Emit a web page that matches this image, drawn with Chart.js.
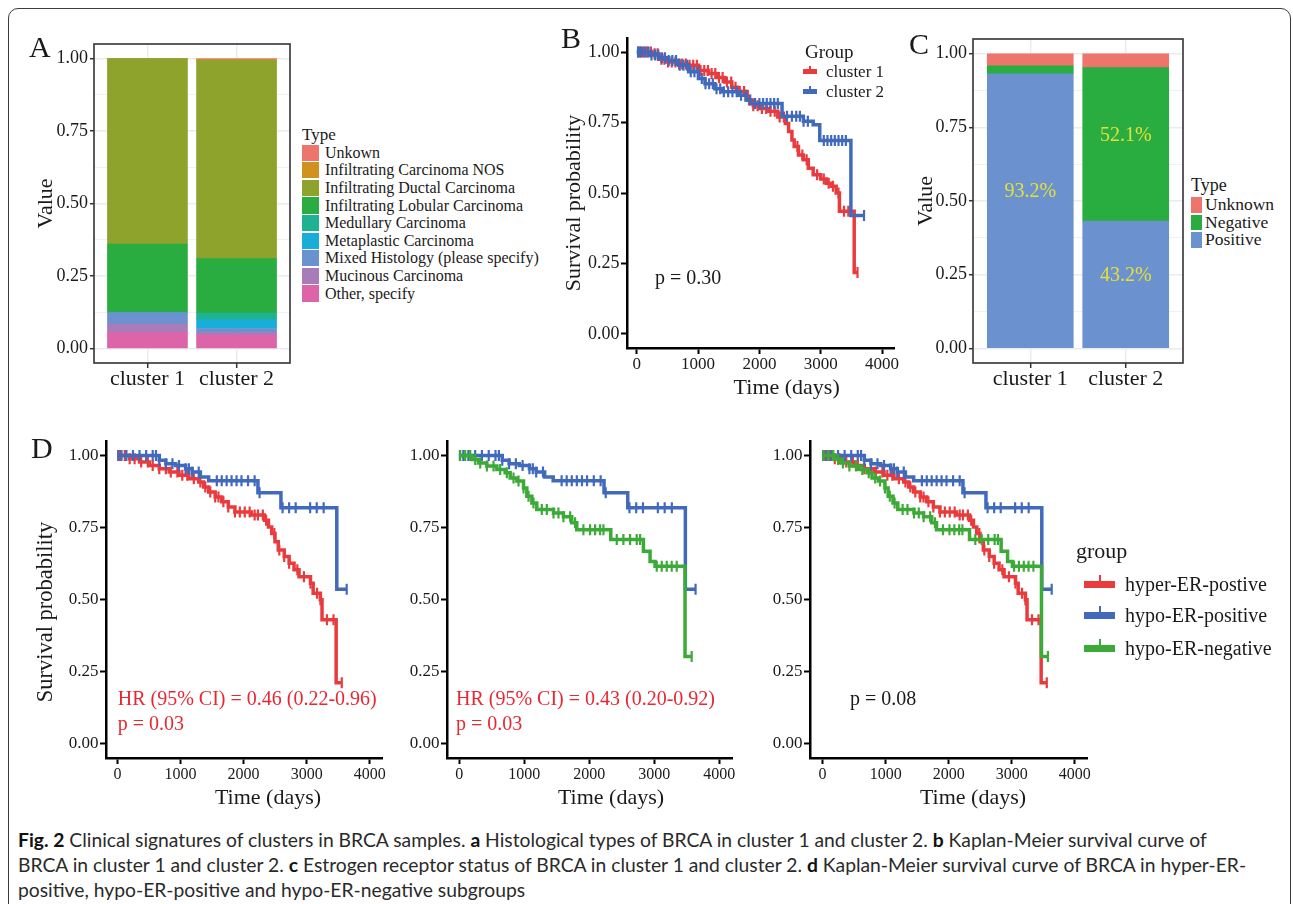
<!DOCTYPE html>
<html>
<head>
<meta charset="utf-8">
<title>Fig. 2</title>
<script src="https://cdn.jsdelivr.net/npm/chart.js@4.4.1/dist/chart.umd.min.js"></script>
<style>
html,body{margin:0;padding:0;background:#fff;}
body{width:1293px;height:904px;overflow:hidden;position:relative;font-family:'Liberation Serif','Times New Roman',serif;color:#1a1a1a;}
.abs{position:absolute;white-space:nowrap;}
canvas{position:absolute;}
#frame{position:absolute;left:8px;top:8px;width:1283px;height:1000px;border:1.5px solid #3c3c3c;border-radius:10px;box-sizing:border-box;}
.cap{position:absolute;left:18px;font-family:Lato,'Open Sans',sans-serif;font-size:19.3px;line-height:20px;color:#2a2a2a;white-space:nowrap;}
.cap b{color:#111;}
</style>
</head>
<body>
<div id="frame"></div>
<canvas id="cA" width="272" height="370" style="left:20px;top:30px"></canvas>
<canvas id="cB" width="362" height="380" style="left:540px;top:25px"></canvas>
<canvas id="cC" width="290" height="375" style="left:900px;top:25px"></canvas>
<canvas id="cD1" width="370" height="390" style="left:20px;top:425px"></canvas>
<canvas id="cD2" width="350" height="390" style="left:390px;top:425px"></canvas>
<canvas id="cD3" width="330" height="390" style="left:765px;top:425px"></canvas>
<div class="cap" style="top:830px"><b>Fig. 2</b> Clinical signatures of clusters in BRCA samples. <b>a</b> Histological types of BRCA in cluster 1 and cluster 2. <b>b</b> Kaplan-Meier survival curve of</div>
<div class="cap" style="top:855px">BRCA in cluster 1 and cluster 2. <b>c</b> Estrogen receptor status of BRCA in cluster 1 and cluster 2. <b>d</b> Kaplan-Meier survival curve of BRCA in hyper-ER-</div>
<div class="cap" style="top:880px">positive, hypo-ER-positive and hypo-ER-negative subgroups</div>
<script>
// ================= DATA =================
const clusters = ['cluster 1', 'cluster 2'];

// Panel A: histological types (stack order: first = top)
const histTypes = ['Unkown', 'Infiltrating Carcinoma NOS', 'Infiltrating Ductal Carcinoma', 'Infiltrating Lobular Carcinoma', 'Medullary Carcinoma', 'Metaplastic Carcinoma', 'Mixed Histology (please specify)', 'Mucinous Carcinoma', 'Other, specify'];
const histCluster1 = [0, 0, 0.640, 0.236, 0, 0, 0.040, 0.029, 0.055];
const histCluster2 = [0.004, 0.002, 0.684, 0.188, 0.023, 0.030, 0.014, 0.008, 0.047];

// Panel C: ER status
const erTypes = ['Unknown', 'Negative', 'Positive'];
const erCluster1 = [0.041, 0.027, 0.932];
const erCluster2 = [0.047, 0.521, 0.432];

// Axis ticks
const valueTicks = [0, 0.25, 0.5, 0.75, 1.0];
const valueMinorTicks = [0.125, 0.375, 0.625, 0.875];
const timeTicks = [0, 1000, 2000, 3000, 4000];

// Panel B: Kaplan-Meier, cluster 1 / cluster 2
const bGroups = ['cluster 1', 'cluster 2'];
const bC1Time = [0, 250, 360, 480, 640, 845, 1005, 1166, 1300, 1433, 1550, 1647, 1800, 1900, 2000, 2150, 2300, 2423, 2476, 2530, 2567, 2637, 2717, 2797, 2877, 3000, 3091, 3171, 3252, 3305, 3546];
const bC1Surv = [1.0, 0.994, 0.975, 0.965, 0.958, 0.953, 0.935, 0.924, 0.91, 0.894, 0.875, 0.86, 0.83, 0.81, 0.80, 0.79, 0.77, 0.747, 0.718, 0.688, 0.665, 0.635, 0.618, 0.588, 0.565, 0.55, 0.535, 0.524, 0.50, 0.435, 0.218];
const bC1Censor = [30, 70, 120, 170, 230, 290, 340, 400, 450, 510, 570, 630, 690, 740, 800, 860, 920, 980, 1040, 1100, 1160, 1220, 1280, 1340, 1400, 1470, 1540, 1610, 1680, 1750, 1830, 1900, 1970, 2040, 2110, 2180, 2250, 2330, 2400, 2620, 2700, 2770, 2940, 3050, 3130, 3200, 3290, 3380, 3450, 3600];
const bC2Time = [0, 200, 360, 520, 685, 845, 1005, 1112, 1273, 1380, 1647, 1781, 1861, 2369, 2717, 2877, 2984, 3492];
const bC2Surv = [1.0, 0.99, 0.98, 0.97, 0.953, 0.93, 0.906, 0.888, 0.87, 0.859, 0.847, 0.83, 0.818, 0.772, 0.755, 0.742, 0.686, 0.42];
const bC2Censor = [20, 50, 90, 140, 190, 240, 300, 350, 410, 460, 520, 580, 640, 700, 760, 820, 880, 940, 1000, 1060, 1120, 1180, 1240, 1300, 1360, 1420, 1490, 1560, 1630, 1700, 1780, 1850, 1930, 2000, 2060, 2120, 2180, 2240, 2300, 2450, 2530, 2600, 2660, 2720, 2790, 3050, 3110, 3170, 3230, 3290, 3350, 3410, 3706];
const bPValue = 'p = 0.30';

// Panel D: Kaplan-Meier, ER subgroups
const dGroups = ['hyper-ER-postive', 'hypo-ER-positive', 'hypo-ER-negative'];
const hyperPosTime = [0, 193, 349, 506, 662, 819, 975, 1132, 1288, 1366, 1445, 1549, 1653, 1757, 1862, 2123, 2331, 2394, 2446, 2498, 2550, 2644, 2722, 2800, 2879, 3061, 3103, 3218, 3244, 3468];
const hyperPosSurv = [1.0, 0.988, 0.977, 0.965, 0.954, 0.942, 0.931, 0.919, 0.908, 0.89, 0.873, 0.856, 0.839, 0.821, 0.804, 0.793, 0.775, 0.752, 0.729, 0.70, 0.672, 0.649, 0.626, 0.603, 0.579, 0.556, 0.522, 0.499, 0.43, 0.211];
const hyperPosCensor = [37, 115, 193, 271, 375, 480, 558, 662, 767, 845, 949, 1027, 1106, 1210, 1314, 1392, 1471, 1549, 1601, 1679, 1757, 1862, 1940, 2018, 2096, 2175, 2227, 2305, 2357, 2487, 2566, 2644, 2722, 2852, 2957, 3061, 3165, 3218, 3322, 3426, 3557];
const hypoPosTime = [0, 662, 767, 923, 1080, 1184, 1314, 1445, 2227, 2592, 3478];
const hypoPosSurv = [1.0, 0.983, 0.971, 0.965, 0.954, 0.942, 0.925, 0.912, 0.87, 0.818, 0.536];
const hypoPosCensor = [10, 63, 141, 245, 349, 454, 558, 610, 662, 767, 871, 975, 1080, 1132, 1184, 1288, 1575, 1653, 1731, 1809, 1888, 1966, 2070, 2175, 2253, 2618, 2722, 2826, 3055, 3160, 3270, 3635];
const hypoNegTime = [0, 195, 297, 425, 579, 707, 784, 886, 989, 1040, 1117, 1193, 1450, 1603, 1731, 1808, 2331, 2833, 2935, 3012, 3473];
const hypoNegSurv = [1.0, 0.986, 0.974, 0.963, 0.951, 0.94, 0.922, 0.911, 0.887, 0.858, 0.835, 0.812, 0.80, 0.787, 0.766, 0.742, 0.708, 0.667, 0.632, 0.615, 0.302];
const hypoNegCensor = [15, 92, 169, 246, 323, 425, 528, 630, 732, 835, 912, 989, 1066, 1142, 1270, 1347, 1450, 1526, 1603, 1706, 1782, 1910, 2013, 2090, 2167, 2218, 2423, 2525, 2628, 2730, 2782, 3038, 3115, 3192, 3268, 3345, 3575];
const d1Stats = ['HR (95% CI) = 0.46 (0.22-0.96)', 'p = 0.03'];
const d2Stats = ['HR (95% CI) = 0.43 (0.20-0.92)', 'p = 0.03'];
const d3Stats = ['p = 0.08'];

// ================= STYLE =================
const FONT = "'Liberation Serif','Times New Roman',serif";
const TXT = '#1a1a1a';
const histColors = ['#EE756C', '#D0911E', '#8EA32C', '#29AC40', '#1DB292', '#19AEDA', '#6B91CF', '#A87CB9', '#DD64A9'];
const erColors = ['#EE756C', '#29AC40', '#6B91CF'];
const RED = '#E93B3D', BLUE = '#4169BC', GREEN = '#3CAA37';
const STAT_RED = '#E62832';

// ================= HELPERS =================
function txt(str, x, cy, size, o) {
  o = o || {};
  const d = document.createElement('div');
  d.className = 'abs';
  d.textContent = str;
  d.style.fontSize = size + 'px';
  d.style.lineHeight = size + 'px';
  d.style.left = x + 'px';
  d.style.top = (cy - size / 2) + 'px';
  if (o.color) d.style.color = o.color;
  if (o.center) d.style.transform = 'translateX(-50%)';
  if (o.rotate) { d.style.transform = 'translate(-50%,-50%) rotate(-90deg)'; d.style.top = cy + 'px'; }
  document.body.appendChild(d);
  return d;
}
function box(x, y, w, h, color) {
  const d = document.createElement('div');
  d.className = 'abs';
  Object.assign(d.style, {left: x + 'px', top: y + 'px', width: w + 'px', height: h + 'px', background: color});
  document.body.appendChild(d);
}
function letter(ch, x, baseline) { txt(ch, x, baseline - 25 + 15, 30); }

const panelBorder = {
  id: 'panelBorder',
  afterDatasetsDraw(chart, args, opts) {
    if (!opts || !opts.display) return;
    const {ctx, chartArea: a} = chart;
    ctx.save();
    ctx.strokeStyle = opts.color; ctx.lineWidth = opts.width;
    ctx.strokeRect(a.left, a.top, a.right - a.left, a.bottom - a.top);
    ctx.restore();
  }
};
const barLabels = {
  id: 'barLabels',
  afterDatasetsDraw(chart, args, opts) {
    if (!opts || !opts.display) return;
    const ctx = chart.ctx;
    ctx.save();
    ctx.font = opts.size + 'px ' + FONT;
    ctx.fillStyle = opts.color; ctx.textAlign = 'center'; ctx.textBaseline = 'middle';
    chart.data.datasets.forEach((ds, di) => {
      chart.getDatasetMeta(di).data.forEach((el, j) => {
        const v = ds.data[j].y;
        if (v < opts.min) return;
        const y = (el.y + el.base) / 2 + opts.nudge(j, ds.typeIndex);
        ctx.fillText((v * 100).toFixed(1) + '%', el.x, y);
      });
    });
    ctx.restore();
  }
};

function stackBar(id, geo, types, byCluster, colors, extraPlugins) {
  const datasets = [];
  for (let i = types.length - 1; i >= 0; i--) {
    datasets.push({
      label: types[i], typeIndex: i,
      data: clusters.map((c, j) => ({x: j + 1, y: byCluster[j][i]})),
      backgroundColor: colors[i], borderWidth: 0, barThickness: geo.barPx
    });
  }
  const isMajor = v => valueTicks.includes(v);
  return new Chart(document.getElementById(id), {
    type: 'bar',
    data: {datasets},
    plugins: [panelBorder, barLabels],
    options: {
      animation: false, responsive: false, devicePixelRatio: 1, events: [],
      layout: {padding: {left: 0, top: geo.padTop, right: geo.padRight, bottom: 0}},
      plugins: {
        legend: {display: false}, tooltip: {enabled: false},
        panelBorder: {display: true, color: '#333', width: 1.6},
        barLabels: extraPlugins.barLabels || {display: false}
      },
      scales: {
        x: {
          type: 'linear', stacked: true, offset: false, min: 0.4, max: 2.6,
          afterBuildTicks: s => { s.ticks = clusters.map((c, j) => ({value: j + 1})); },
          ticks: {callback: v => clusters[v - 1], font: {family: FONT, size: 22, lineHeight: 1}, color: TXT, padding: 0, autoSkip: false, maxRotation: 0},
          grid: {color: '#EBEBEB', lineWidth: 1.4, offset: false, tickColor: '#333', tickLength: 5, tickWidth: 1.5},
          border: {display: false},
          afterFit: s => { s.height = geo.xH; }
        },
        y: {
          stacked: true, min: -0.05, max: 1.05,
          afterBuildTicks: s => { s.ticks = valueTicks.concat(valueMinorTicks).sort((a, b) => a - b).map(v => ({value: v})); },
          ticks: {callback: v => isMajor(v) ? v.toFixed(2) : '', font: {family: FONT, size: 18, lineHeight: 1}, color: TXT, padding: 2, autoSkip: false},
          grid: {
            color: '#EBEBEB',
            lineWidth: c => isMajor(c.tick && c.tick.value) ? 1.4 : 0.7,
            tickColor: c => isMajor(c.tick && c.tick.value) ? '#333' : 'rgba(0,0,0,0)',
            tickLength: 4, tickWidth: 1.5
          },
          border: {display: false},
          title: {display: true, text: 'Value', font: {family: FONT, size: 22, lineHeight: 1}, color: TXT, padding: {top: geo.titlePad, bottom: 0}},
          afterFit: s => { s.width = geo.yW; }
        }
      }
    }
  });
}

function survAt(c, t) {
  let v = c.surv[0];
  for (let i = 0; i < c.time.length; i++) if (c.time[i] <= t) v = c.surv[i];
  return v;
}

function kmChart(id, geo, curves) {
  const n = curves.length;
  const datasets = [];
  curves.forEach((c, k) => {
    const pts = c.time.map((t, i) => ({x: t, y: c.surv[i]}));
    pts.push({x: Math.max.apply(null, c.censor), y: c.surv[c.surv.length - 1]});
    datasets.push({label: c.name, data: pts, stepped: true, borderColor: c.color, borderWidth: 3.5, pointRadius: 0, fill: false, borderJoinStyle: 'miter', order: (n - k) * 2});
    datasets.push({label: c.name + ' (censored)', data: c.censor.map(t => ({x: t, y: survAt(c, t)})), showLine: false,
      pointStyle: 'line', pointRotation: 90, pointRadius: 5.5, pointBorderWidth: 2.2, pointBorderColor: c.color, pointBackgroundColor: c.color, order: (n - k) * 2 - 1});
  });
  const axisGrid = {drawOnChartArea: false, drawTicks: true, tickLength: 6, tickWidth: 2, tickColor: '#000'};
  const axisBorder = {display: true, color: '#000', width: 2.5};
  return new Chart(document.getElementById(id), {
    type: 'line',
    data: {datasets},
    options: {
      animation: false, responsive: false, devicePixelRatio: 1, events: [],
      layout: {padding: {left: 0, top: geo.padTop, right: geo.padRight, bottom: 0}},
      plugins: {legend: {display: false}, tooltip: {enabled: false}},
      scales: {
        x: {
          type: 'linear', min: geo.xmin, max: 4200,
          afterBuildTicks: s => { s.ticks = timeTicks.map(v => ({value: v})); },
          ticks: {callback: v => String(v), font: {family: FONT, size: geo.xFont, lineHeight: 1}, color: TXT, padding: geo.xPad, autoSkip: false, maxRotation: 0},
          grid: axisGrid, border: axisBorder,
          afterFit: s => { s.height = geo.xH; }
        },
        y: {
          type: 'linear', min: -0.05, max: 1.05,
          afterBuildTicks: s => { s.ticks = valueTicks.map(v => ({value: v})); },
          ticks: {callback: v => v.toFixed(2), font: {family: FONT, size: geo.yFont, lineHeight: 1}, color: TXT, padding: 1.5, autoSkip: false},
          grid: axisGrid, border: axisBorder,
          afterFit: s => { s.width = geo.yW; }
        }
      }
    }
  });
}

// ================= PANEL A =================
stackBar('cA', {barPx: 80, padTop: 14, padRight: 2, xH: 37, yW: 74, titlePad: 15}, histTypes, [histCluster1, histCluster2], histColors, {});
letter('A', 29, 57);
txt('Type', 302, 134, 17);
histTypes.forEach((t, i) => {
  const cy = 152.7 + i * 17.6;
  box(302, cy - 8.2, 16.5, 16.4, histColors[i]);
  txt(t, 325, cy, 16);
});

// ================= PANEL B =================
const bCurves = [
  {name: bGroups[0], time: bC1Time, surv: bC1Surv, censor: bC1Censor, color: RED},
  {name: bGroups[1], time: bC2Time, surv: bC2Surv, censor: bC2Censor, color: BLUE}
];
kmChart('cB', {xmin: -160, padTop: 13, padRight: 3, xH: 57, yW: 87, xFont: 17, yFont: 18, xPad: 2.5}, bCurves);
letter('B', 561, 48);
txt('Group', 805, 51, 19);
bCurves.forEach((c, i) => {
  const cy = 71.7 + i * 20;
  box(803, cy - 2.5, 14, 5, c.color);
  box(809, cy - 6, 2, 5, c.color);
  txt(c.name, 826, cy, 17);
});
txt(bPValue, 655, 277, 20);
txt('Time (days)', 786.7, 387, 22, {center: true});
txt('Survival probability', 573, 203, 22, {rotate: true});

// ================= PANEL C =================
stackBar('cC', {barPx: 86, padTop: 14, padRight: 7, xH: 37, yW: 73, titlePad: 15}, erTypes, [erCluster1, erCluster2], erColors,
  {barLabels: {display: true, size: 20, color: '#E3E03B', min: 0.1, nudge: (j, i) => (j === 0 ? -19 : -9)}});
letter('C', 909, 54);
txt('Type', 1191, 185, 18);
erTypes.forEach((t, i) => {
  const cy = 205 + i * 17.6;
  box(1191, cy - 7.8, 11, 15.6, erColors[i]);
  txt(t, 1205, cy, 17.5);
});

// ================= PANEL D =================
const dCurves = [
  {name: dGroups[0], time: hyperPosTime, surv: hyperPosSurv, censor: hyperPosCensor, color: RED},
  {name: dGroups[1], time: hypoPosTime, surv: hypoPosSurv, censor: hypoPosCensor, color: BLUE},
  {name: dGroups[2], time: hypoNegTime, surv: hypoNegSurv, censor: hypoNegCensor, color: GREEN}
];
const dGeo = {padTop: 16, xH: 57, xFont: 16, yFont: 17, xPad: 3};
kmChart('cD1', Object.assign({}, dGeo, {xmin: -183, padRight: 4, yW: 86}), [dCurves[0], dCurves[1]]);
kmChart('cD2', Object.assign({}, dGeo, {xmin: -188, padRight: 7, yW: 57}), [dCurves[1], dCurves[2]]);
kmChart('cD3', Object.assign({}, dGeo, {xmin: -200, padRight: 6, yW: 45}), dCurves);
letter('D', 31, 458);
txt('Survival probability', 45, 611.7, 22.5, {rotate: true});
txt('Time (days)', 268, 796.7, 22, {center: true});
txt('Time (days)', 611, 796.7, 22, {center: true});
txt('Time (days)', 973, 797, 22, {center: true});
d1Stats.forEach((s, i) => txt(s, 117.7, 698.3 + i * 25, 20, {color: STAT_RED}));
d2Stats.forEach((s, i) => txt(s, 456, 698.3 + i * 25, 20, {color: STAT_RED}));
d3Stats.forEach((s, i) => txt(s, 850, 698.3 + i * 25, 20));
txt('group', 1076, 551, 22);
dCurves.forEach((c, i) => {
  const cy = [584, 615, 648][i];
  box(1084, cy - 3.5, 31, 7, c.color);
  box(1099, cy - 9, 2, 13, c.color);
  txt(c.name, 1125, cy, 20);
});
</script>
</body>
</html>
